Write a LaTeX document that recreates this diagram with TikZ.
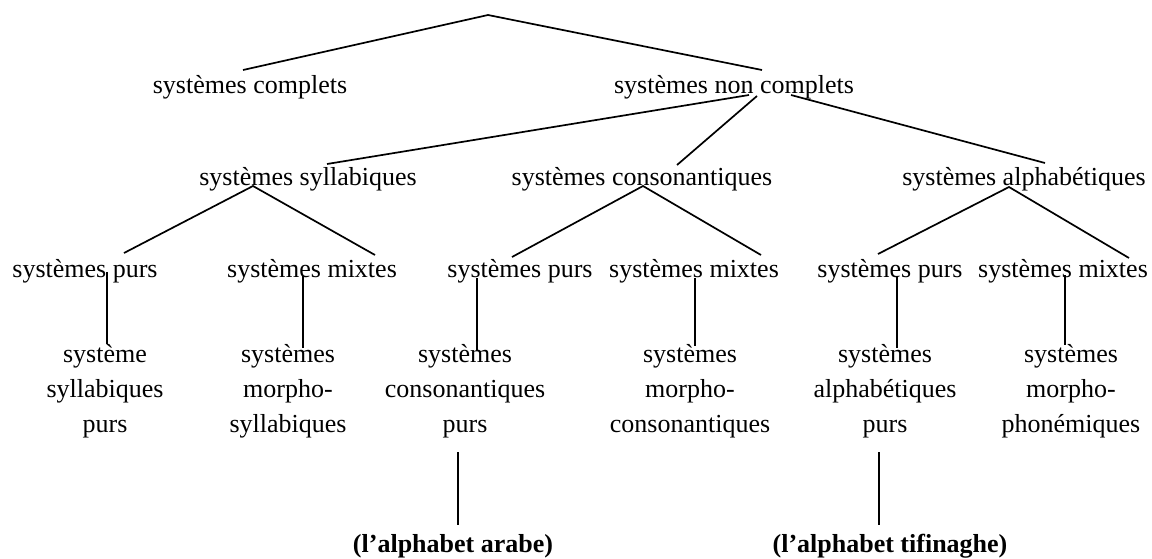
\documentclass[tikz,border=0pt]{standalone}
\usepackage{fontspec}
\setmainfont{Liberation Serif}
\begin{document}
\begin{tikzpicture}[x=1pt,y=-1pt,
  lbl/.style={inner sep=0pt,anchor=base,font=\fontsize{26}{35}\selectfont,align=center},
  blbl/.style={lbl,font=\fontsize{26}{35}\selectfont\bfseries},
  edge/.style={line width=1.7pt}]
\useasboundingbox (0,0) rectangle (1152,558);
% level 1
\node[lbl] (sc) at (250,93) {systèmes complets};
\node[lbl] (nc) at (734,93) {systèmes non complets};
% level 2
\node[lbl] (syl) at (308,185) {systèmes syllabiques};
\node[lbl] (con) at (642,185) {systèmes consonantiques};
\node[lbl] (alp) at (1024,185) {systèmes alphabétiques};
% level 3
\node[lbl] (p1) at (85,277) {systèmes purs};
\node[lbl] (m1) at (312,277) {systèmes mixtes};
\node[lbl] (p2) at (520,277) {systèmes purs};
\node[lbl] (m2) at (694,277) {systèmes mixtes};
\node[lbl] (p3) at (890,277) {systèmes purs};
\node[lbl] (m3) at (1063,277) {systèmes mixtes};
% level 4 (base anchor = baseline of last line)
\node[lbl] (l1) at (105,432) {système\\syllabiques\\purs};
\node[lbl] (l2) at (288,432) {systèmes\\morpho-\\syllabiques};
\node[lbl] (l3) at (465,432) {systèmes\\consonantiques\\purs};
\node[lbl] (l4) at (690,432) {systèmes\\morpho-\\consonantiques};
\node[lbl] (l5) at (885,432) {systèmes\\alphabétiques\\purs};
\node[lbl] (l6) at (1071,432) {systèmes\\morpho-\\phonémiques};
% level 5
\node[blbl] (ar) at (453,552) {(l’alphabet arabe)};
\node[blbl] (tf) at (890,552) {(l’alphabet tifinaghe)};
% connector points
\coordinate (root) at (488,15);
\coordinate (sc-t) at (243,70);
\coordinate (nc-t) at (762,70);
\coordinate (nc-b1) at (749,95);
\coordinate (nc-b2) at (757,96);
\coordinate (nc-b3) at (791,95);
\coordinate (syl-t) at (327,164);
\coordinate (con-t) at (677,165);
\coordinate (alp-t) at (1045,163);
\coordinate (syl-b) at (253,186);
\coordinate (con-b) at (643,186);
\coordinate (alp-b) at (1009,187);
\coordinate (p1-t) at (124,253);
\coordinate (m1-t) at (375,255);
\coordinate (p2-t) at (512,257);
\coordinate (m2-t) at (761,255);
\coordinate (p3-t) at (878,254);
\coordinate (m3-t) at (1129,258);
\coordinate (p1-b) at (107,272);
\coordinate (m1-b) at (303,276);
\coordinate (p2-b) at (477,278);
\coordinate (m2-b) at (695,278);
\coordinate (p3-b) at (897,276);
\coordinate (m3-b) at (1065,275);
\coordinate (l1-t) at (107,344);
\coordinate (l2-t) at (303,348);
\coordinate (l3-t) at (477,351);
\coordinate (l4-t) at (695,346);
\coordinate (l5-t) at (897,348);
\coordinate (l6-t) at (1065,345);
\coordinate (l3-b) at (458,452);
\coordinate (l5-b) at (879,452);
\coordinate (ar-t) at (458,525);
\coordinate (tf-t) at (879,525);
% connectors
\draw[edge] (sc-t) -- (root) -- (nc-t);
\draw[edge] (nc-b1) -- (syl-t);
\draw[edge] (nc-b2) -- (con-t);
\draw[edge] (nc-b3) -- (alp-t);
\draw[edge] (p1-t) -- (syl-b) -- (m1-t);
\draw[edge] (p2-t) -- (con-b) -- (m2-t);
\draw[edge] (p3-t) -- (alp-b) -- (m3-t);
\draw[edge] (p1-b) -- (l1-t);
\draw[edge] (m1-b) -- (l2-t);
\draw[edge] (p2-b) -- (l3-t);
\draw[edge] (m2-b) -- (l4-t);
\draw[edge] (p3-b) -- (l5-t);
\draw[edge] (m3-b) -- (l6-t);
\draw[edge] (l3-b) -- (ar-t);
\draw[edge] (l5-b) -- (tf-t);
\end{tikzpicture}
\end{document}
